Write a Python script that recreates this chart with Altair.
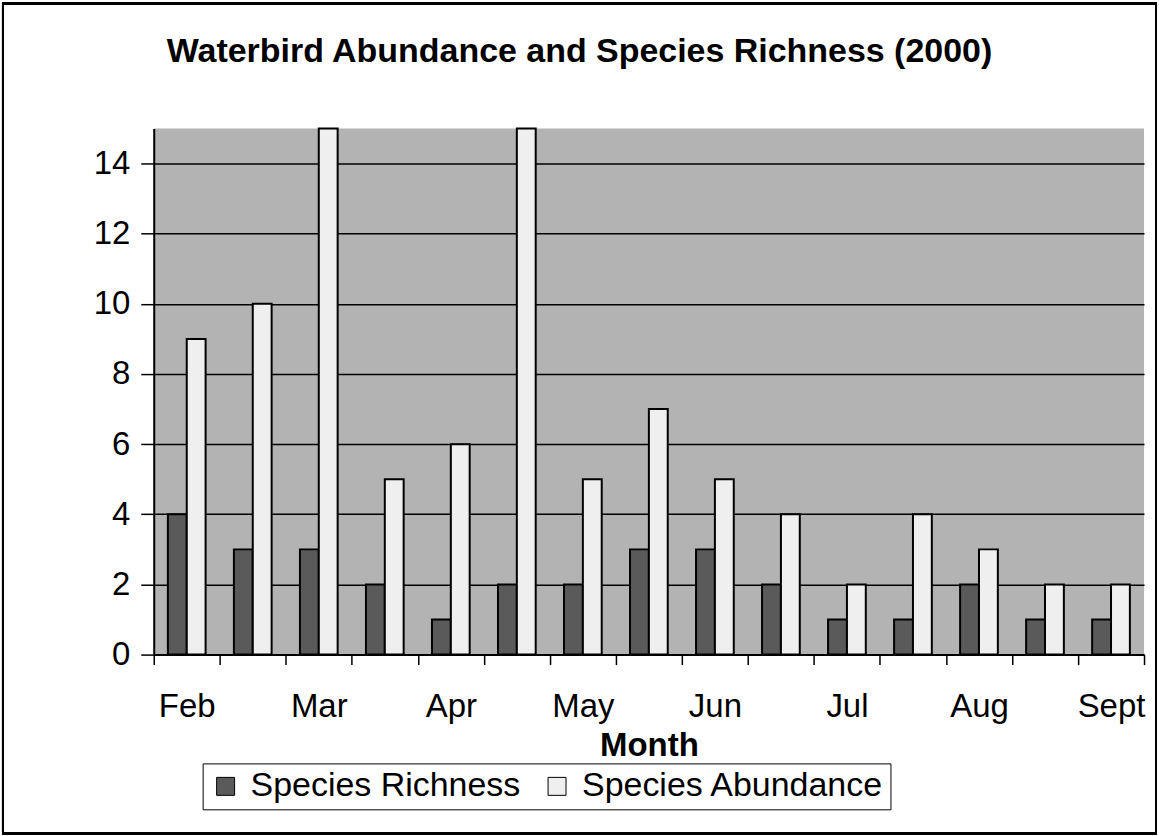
import json
import altair as alt
import pandas as pd

# ---- data ----
group_labels = ["Feb", "", "Mar", "", "Apr", "", "May", "", "Jun", "", "Jul", "", "Aug", "", "Sept"]
richness = [4, 3, 3, 2, 1, 2, 2, 3, 3, 2, 1, 1, 2, 1, 1]
abundance = [9, 10, 15, 5, 6, 15, 5, 7, 5, 4, 2, 4, 3, 2, 2]
series_names = ["Species Richness", "Species Abundance"]
y_ticks = [0, 2, 4, 6, 8, 10, 12, 14]

rows = []
for i in range(len(group_labels)):
    rows.append({"group": i, "series": series_names[0], "value": richness[i]})
    rows.append({"group": i, "series": series_names[1], "value": abundance[i]})
df = pd.DataFrame(rows)

FONT = "Liberation Sans"
W, H = 992, 527
label_expr = json.dumps(group_labels) + "[datum.value]"

bars = alt.Chart(df).mark_bar(stroke="black", strokeWidth=2).encode(
    x=alt.X("group:O",
            scale=alt.Scale(paddingInner=0, paddingOuter=0),
            axis=alt.Axis(title="Month", labelExpr=label_expr, labelAngle=0,
                          tickBand="extent", tickSize=10, tickColor="black",
                          tickWidth=1.5, domainColor="black", domainWidth=2,
                          labelFontSize=33, labelFont=FONT, labelColor="black",
                          labelPadding=26, titleFont=FONT, titleFontSize=33,
                          titleFontWeight="bold", titleColor="black",
                          titlePadding=6, grid=False)),
    xOffset=alt.XOffset("series:N", sort=series_names,
                        scale=alt.Scale(paddingOuter=0.75, paddingInner=0)),
    y=alt.Y("value:Q",
            scale=alt.Scale(domain=[0, 15], nice=False),
            axis=alt.Axis(title=None, values=y_ticks, grid=True, gridColor="black",
                          gridWidth=1.5, gridOpacity=1, tickSize=13, tickColor="black",
                          tickWidth=1.5, domainColor="black", domainWidth=2,
                          labelFontSize=33, labelFont=FONT, labelColor="black",
                          labelPadding=11)),
    color=alt.Color("series:N", sort=series_names,
                    scale=alt.Scale(domain=series_names, range=["#5a5a5a", "#efefef"]),
                    legend=alt.Legend(title=None, orient="none", legendX=49, legendY=636,
                                      direction="horizontal", labelFontSize=34,
                                      labelFont=FONT, labelColor="black", labelLimit=0,
                                      symbolType="square", symbolSize=324,
                                      symbolStrokeColor="black", symbolStrokeWidth=1,
                                      symbolOpacity=1, columnPadding=19,
                                      strokeColor="black", padding=6,
                                      fillColor="white", labelOffset=8)),
)

frame = alt.Chart(df).mark_rect(fill=None, stroke="black", strokeWidth=2).encode(
    x=alt.value(-151), x2=alt.value(W + 12), y=alt.value(-125), y2=alt.value(H + 179)
)

chart = alt.layer(frame, bars).properties(
    width=W, height=H,
    view=alt.ViewBackground(fill="#b3b3b3", strokeWidth=0),
    padding={"left": 2, "top": 2, "right": 2, "bottom": 3},
    title=alt.TitleParams("Waterbird Abundance and Species Richness (2000)",
                          font=FONT, fontSize=34, fontWeight="bold", color="black",
                          anchor="middle", frame="bounds", offset=-66),
).configure(background="white")

chart.save("out.html", embed_options={"renderer": "svg", "actions": False})
